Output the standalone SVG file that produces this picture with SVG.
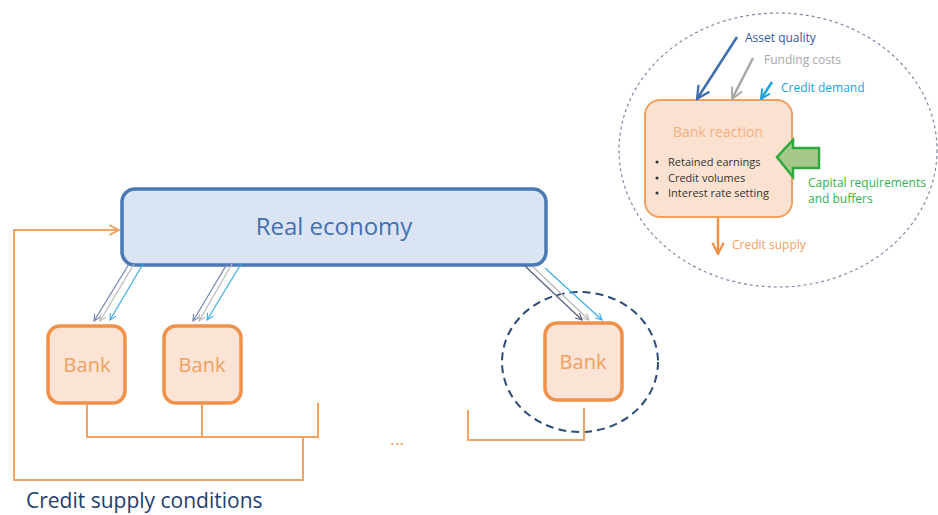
<svg xmlns="http://www.w3.org/2000/svg" width="938" height="515" viewBox="0 0 938 515">
<style>
.f{font-family:"Open Sans","Liberation Sans",sans-serif}
.bank rect{fill:#fbe4d5;stroke:#f0914a;stroke-width:3.5}
.bank text{font-size:20px;fill:#f0a060;text-anchor:middle}
.ol{fill:none;stroke:#f2a261;stroke-width:2}
.t1{stroke:#6f82b3;stroke-width:1.2;fill:none}
.t2{stroke:#b8b8b8;stroke-width:1.2;fill:none}
.t3{stroke:#3aaee4;stroke-width:1.2;fill:none}
.bl{font-size:11px;fill:#333}
</style>
<defs>
<marker id="m1" viewBox="0 0 10 10" refX="9" refY="5" markerWidth="8" markerHeight="8" orient="auto" markerUnits="userSpaceOnUse"><path d="M1,1 L9,5 L1,9" fill="none" stroke="#6f82b3" stroke-width="1.4"/></marker>
<marker id="m2" viewBox="0 0 10 10" refX="9" refY="5" markerWidth="8" markerHeight="8" orient="auto" markerUnits="userSpaceOnUse"><path d="M1,1 L9,5 L1,9" fill="none" stroke="#b8b8b8" stroke-width="1.4"/></marker>
<marker id="m3" viewBox="0 0 10 10" refX="9" refY="5" markerWidth="8" markerHeight="8" orient="auto" markerUnits="userSpaceOnUse"><path d="M1,1 L9,5 L1,9" fill="none" stroke="#3aaee4" stroke-width="1.4"/></marker>
<marker id="m4" viewBox="0 0 10 10" refX="9" refY="5" markerWidth="8" markerHeight="8" orient="auto" markerUnits="userSpaceOnUse"><path d="M1,1 L9,5 L1,9" fill="none" stroke="#50607a" stroke-width="1.4"/></marker>
<marker id="mo" viewBox="0 0 10 10" refX="9" refY="5" markerWidth="12" markerHeight="12" orient="auto" markerUnits="userSpaceOnUse"><path d="M1,1 L9,5 L1,9" fill="none" stroke="#f2a261" stroke-width="1.6"/></marker>
<marker id="mAq" viewBox="0 0 10 10" refX="9" refY="5" markerWidth="16" markerHeight="16" orient="auto" markerUnits="userSpaceOnUse"><path d="M1,1 L9,5 L1,9" fill="none" stroke="#3d6cb0" stroke-width="1.4"/></marker>
<marker id="mFc" viewBox="0 0 10 10" refX="9" refY="5" markerWidth="14" markerHeight="14" orient="auto" markerUnits="userSpaceOnUse"><path d="M1,1 L9,5 L1,9" fill="none" stroke="#a8a8a8" stroke-width="1.4"/></marker>
<marker id="mCd" viewBox="0 0 10 10" refX="9" refY="5" markerWidth="12" markerHeight="12" orient="auto" markerUnits="userSpaceOnUse"><path d="M1,1 L9,5 L1,9" fill="none" stroke="#1aa3e0" stroke-width="1.6"/></marker>
<marker id="mCs" viewBox="0 0 10 10" refX="9" refY="5" markerWidth="14" markerHeight="14" orient="auto" markerUnits="userSpaceOnUse"><path d="M1,1 L9,5 L1,9" fill="none" stroke="#f0914a" stroke-width="1.6"/></marker>
</defs>

<g id="zoom-ellipse">
<ellipse cx="778" cy="150" rx="159" ry="137" fill="none" stroke="#7b8aa6" stroke-width="1.2" stroke-dasharray="3 3"/>
</g>

<g id="real-economy">
<rect x="122" y="189" width="424" height="76" rx="13" fill="#dae4f2" stroke="#4a79b6" stroke-width="3.5"/>
<text class="f" x="334" y="235" font-size="24" fill="#4471b0" text-anchor="middle">Real economy</text>
</g>

<g id="bank1" class="bank">
<rect x="48" y="326" width="77" height="77" rx="12"/>
<text class="f" x="87" y="372">Bank</text>
</g>
<g id="bank2" class="bank">
<rect x="164" y="326" width="77" height="77" rx="12"/>
<text class="f" x="202" y="372">Bank</text>
</g>
<g id="bank3" class="bank">
<rect x="545" y="323" width="77" height="77" rx="12"/>
<text class="f" x="583" y="369">Bank</text>
</g>

<g id="focus-circle">
<ellipse cx="580" cy="362" rx="78" ry="70" fill="none" stroke="#2d4a78" stroke-width="2" stroke-dasharray="8 5"/>
</g>

<g id="bank-reaction">
<rect x="645" y="100" width="147" height="117" rx="15" fill="#fbe2d0" stroke="#f0a060" stroke-width="2"/>
<text class="f" x="718" y="137" font-size="14" fill="#f4b07c" text-anchor="middle">Bank reaction</text>
<circle cx="657" cy="162" r="1.5" fill="#333"/>
<circle cx="657" cy="178" r="1.5" fill="#333"/>
<circle cx="657" cy="193" r="1.5" fill="#333"/>
<text class="f bl" x="668" y="166">Retained earnings</text>
<text class="f bl" x="668" y="182">Credit volumes</text>
<text class="f bl" x="668" y="197">Interest rate setting</text>
</g>

<g id="capital-arrow">
<path d="M777,157 L793,140 L793,148 L819,148 L819,168 L793,168 L793,177 Z" fill="#a4c98a" stroke="#2ea83e" stroke-width="2.5" stroke-linejoin="miter"/>
<text class="f" x="808" y="187" font-size="12" fill="#2eb34e">Capital requirements</text>
<text class="f" x="808" y="203" font-size="12" fill="#2eb34e">and buffers</text>
</g>

<g id="labels">
<text class="f" x="745" y="42" font-size="12" fill="#2f5a9e">Asset quality</text>
<text class="f" x="764" y="64" font-size="12" fill="#a8a8a8">Funding costs</text>
<text class="f" x="781" y="92" font-size="12" fill="#1aa3e0">Credit demand</text>
<text class="f" x="732" y="249" font-size="12" fill="#f4a060">Credit supply</text>
<text class="f" x="397" y="445" font-size="18" fill="#f0a060" text-anchor="middle">...</text>
<text class="f" x="26" y="508" font-size="21" fill="#24406e">Credit supply conditions</text>
</g>

<g id="connectors">
<line x1="737" y1="37" x2="697" y2="99" stroke="#3d6cb0" stroke-width="2.5" marker-end="url(#mAq)"/>
<line x1="753" y1="58" x2="732" y2="99" stroke="#a8a8a8" stroke-width="2.5" marker-end="url(#mFc)"/>
<line x1="772" y1="82" x2="761" y2="99" stroke="#1aa3e0" stroke-width="2.5" marker-end="url(#mCd)"/>
<line x1="718" y1="218" x2="718" y2="254" stroke="#f0914a" stroke-width="2.5" marker-end="url(#mCs)"/>

<line class="t1" x1="129" y1="264" x2="94" y2="321" marker-end="url(#m1)"/>
<line class="t2" x1="134" y1="264" x2="100" y2="321" marker-end="url(#m2)"/>
<line class="t3" x1="143" y1="264" x2="110" y2="320" marker-end="url(#m3)"/>
<line class="t1" x1="227" y1="264" x2="193" y2="321" marker-end="url(#m1)"/>
<line class="t2" x1="232" y1="264" x2="199" y2="321" marker-end="url(#m2)"/>
<line class="t3" x1="241" y1="264" x2="207" y2="320" marker-end="url(#m3)"/>
<line x1="525" y1="266" x2="582" y2="320" stroke="#50607a" stroke-width="1.2" marker-end="url(#m4)"/>
<line class="t2" x1="533" y1="267" x2="589" y2="320" marker-end="url(#m2)"/>
<line class="t3" x1="545" y1="268" x2="602" y2="320" marker-end="url(#m3)"/>

<polyline class="ol" points="87,405 87,437 318,437 318,403"/>
<line class="ol" x1="202" y1="405" x2="202" y2="437"/>
<polyline class="ol" points="468,410 468,440 584,440 584,408"/>
<polyline class="ol" points="303,437 303,480 14,480 14,230 119,230" marker-end="url(#mo)"/>
</g>
</svg>
